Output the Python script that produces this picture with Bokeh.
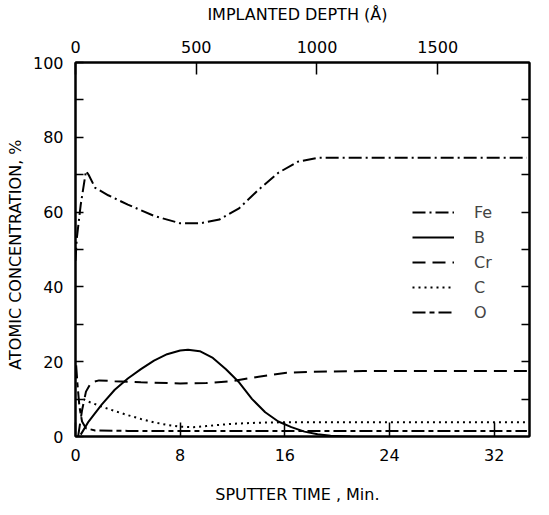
from bokeh.plotting import figure
from bokeh.models import Range1d, LinearAxis, FixedTicker, Legend, LegendItem
from bokeh.embed import file_html
from bokeh.resources import INLINE

# ---- data (sputter time in minutes, atomic concentration in %) ----
fe_time = [0, 0.1, 0.4, 0.8, 1.0, 1.5, 2.5, 4, 6, 8, 9.5, 11, 12.5, 14, 15.5, 17, 18.5, 20, 24, 28, 32, 34.5]
fe_conc = [47, 53, 62, 71, 70, 66.5, 64.5, 62, 59, 57, 57, 58, 61, 66, 70.5, 73.5, 74.5, 74.5, 74.5, 74.5, 74.5, 74.5]

b_time = [0.4, 1, 2, 3, 4, 5, 6, 7, 8, 8.6, 9.5, 10.5, 11.5, 12.5, 13.5, 14.5, 15.5, 16.5, 17.5, 18.5, 19.5, 21]
b_conc = [0.5, 4, 8.5, 12.5, 15.5, 18, 20.3, 22, 23, 23.2, 22.8, 21, 18, 14.5, 10, 6.5, 4, 2.5, 1.3, 0.6, 0.2, 0]

cr_time = [0.2, 0.5, 0.8, 1.2, 1.8, 3, 5, 8, 10, 12, 14, 16, 18, 22, 26, 30, 34.5]
cr_conc = [0, 7, 12, 14.5, 15, 14.8, 14.5, 14.2, 14.3, 14.8, 16, 17, 17.3, 17.5, 17.5, 17.5, 17.5]

c_time = [0.6, 1, 2, 3, 4, 5, 6, 7, 8, 9, 10, 11, 12, 14, 16, 20, 24, 28, 32, 34.5]
c_conc = [10, 9.3, 8, 6.8, 5.7, 4.7, 3.8, 3.1, 2.6, 2.5, 2.8, 3.1, 3.4, 3.7, 3.8, 3.8, 3.8, 3.8, 3.8, 3.8]

o_time = [0.05, 0.15, 0.3, 0.5, 0.8, 1.5, 4, 8, 16, 24, 32, 34.5]
o_conc = [19, 14, 8, 4, 2.2, 1.6, 1.5, 1.5, 1.5, 1.5, 1.5, 1.5]

time_ticks = [0, 8, 16, 24, 32]
depth_ticks = [0, 500, 1000, 1500]
conc_ticks = [0, 20, 40, 60, 80, 100]
conc_minor = [10, 30, 50, 70, 90]

FONT = "DejaVu Sans"
FS = "16px"

p = figure(frame_width=454, frame_height=374,
           x_range=Range1d(0, 34.7), y_range=Range1d(0, 100),
           output_backend="svg", toolbar_location=None,
           min_border_left=75, min_border_right=4, min_border_top=62, min_border_bottom=60)
p.extra_x_ranges = {"depth": Range1d(0, 1880)}
p.grid.visible = False
p.outline_line_color = "black"
p.outline_line_width = 2
p.background_fill_color = "white"
p.border_fill_color = "white"

def style_axis(ax, tick_len):
    ax.axis_line_width = 2
    ax.axis_line_color = "black"
    ax.major_tick_in = tick_len
    ax.major_tick_out = 0
    ax.minor_tick_in = 8
    ax.minor_tick_out = 0
    ax.major_tick_line_width = 1.5
    ax.minor_tick_line_width = 1.5
    ax.major_label_text_font = FONT
    ax.major_label_text_font_size = FS
    ax.major_label_text_color = "black"
    ax.axis_label_text_font = FONT
    ax.axis_label_text_font_size = FS
    ax.axis_label_text_font_style = "normal"
    ax.axis_label_text_color = "black"

xb = p.xaxis[0]
xb.ticker = FixedTicker(ticks=time_ticks)
xb.axis_label = "SPUTTER  TIME ,  Min."
style_axis(xb, 14)
xb.major_label_standoff = 12
xb.axis_label_standoff = 21

yl = p.yaxis[0]
yl.ticker = FixedTicker(ticks=conc_ticks, minor_ticks=conc_minor)
yl.axis_label = "ATOMIC  CONCENTRATION,  %"
style_axis(yl, 8)
yl.major_label_standoff = 12
yl.axis_label_standoff = 5

top = LinearAxis(x_range_name="depth", ticker=FixedTicker(ticks=depth_ticks),
                 axis_label="IMPLANTED  DEPTH  (Å)")
style_axis(top, 12)
top.major_label_standoff = 10
top.axis_label_standoff = 14
p.add_layout(top, "above")

right = LinearAxis(ticker=FixedTicker(ticks=conc_minor + [20, 40, 60, 80]),
                   major_label_overrides={t: "" for t in [10, 20, 30, 40, 50, 60, 70, 80, 90]})
style_axis(right, 8)
right.major_label_standoff = 0
right.major_label_text_font_size = "1px"
p.add_layout(right, "right")

LW = 2
r_fe = p.line(fe_time, fe_conc, line_color="black", line_width=LW, line_dash="13 4 2 4")
r_b = p.line(b_time, b_conc, line_color="black", line_width=LW)
r_cr = p.line(cr_time, cr_conc, line_color="black", line_width=LW, line_dash="13 7")
r_c = p.line(c_time, c_conc, line_color="black", line_width=LW, line_dash="2 4")
r_o = p.line(o_time, o_conc, line_color="black", line_width=LW, line_dash="13 4 5 4")

legend = Legend(items=[LegendItem(label="Fe", renderers=[r_fe]),
                       LegendItem(label="B", renderers=[r_b]),
                       LegendItem(label="Cr", renderers=[r_cr]),
                       LegendItem(label="C", renderers=[r_c]),
                       LegendItem(label="O", renderers=[r_o])],
                location=(337, 114), border_line_color=None, background_fill_alpha=0,
                glyph_width=42, glyph_height=20, label_standoff=20, spacing=5,
                padding=0, margin=0, label_text_font=FONT, label_text_font_size=FS,
                label_height=20)
p.add_layout(legend, "center")

open("out.html", "w").write(file_html(p, INLINE))
